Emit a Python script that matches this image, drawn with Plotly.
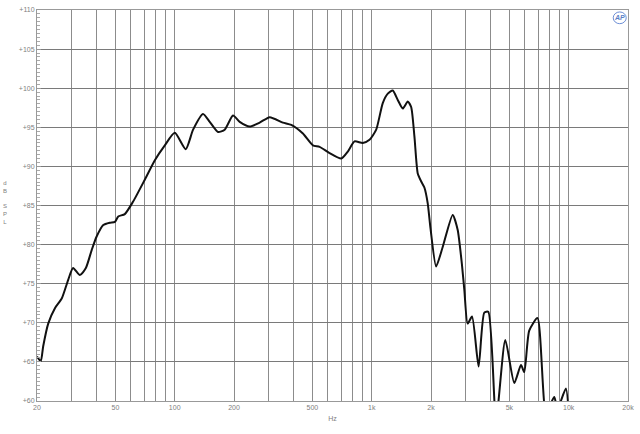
import plotly.graph_objects as go

# frequency response (Hz, dB SPL)
freq_hz = [20, 20.9, 21.5, 22.8, 24.7, 26.7, 28.8, 30.5, 33.0, 35.4, 37.9, 40.1, 43.4,
           46.9, 49.7, 51.7, 55.8, 61.5, 70.5, 79.3, 89.1, 100.1, 113.8, 124.0, 139.3,
           150.6, 165.9, 179.4, 197.7, 213.8, 240.2, 270, 303.5, 354.3, 390.8, 447.5,
           502.8, 543.8, 611, 700.6, 756.6, 818, 901, 974.5, 1054, 1138, 1207, 1279,
           1356, 1438, 1524, 1586, 1648, 1713, 1790, 1851, 1924, 1990, 2123, 2293, 2577,
           2731, 2870, 2953, 3069, 3231, 3489, 3729, 3908, 4276, 4766, 5294, 5725, 5950,
           6304, 6947, 7664, 8443, 8775, 9677, 10057]
spl_db = [65.7, 65.1, 67.0, 69.9, 71.9, 73.1, 75.5, 77.0, 76.1, 77.0, 79.3, 81.0, 82.5,
          82.8, 82.9, 83.6, 83.9, 85.5, 88.3, 90.8, 92.7, 94.3, 92.2, 94.7, 96.7,
          95.7, 94.4, 94.7, 96.5, 95.7, 95.1, 95.6, 96.3, 95.6, 95.3, 94.2,
          92.7, 92.5, 91.7, 91.0, 91.9, 93.2, 93.0, 93.4, 94.7, 98.1, 99.3, 99.7,
          98.5, 97.4, 98.3, 97.6, 93.8, 89.1, 88.0, 87.3, 85.3, 82.0, 77.2, 79.7, 83.8,
          81.9, 77.5, 74.2, 69.9, 70.8, 64.4, 71.3, 71.4, 57.5, 67.8, 62.3, 64.6, 63.7,
          69.0, 70.6, 58.5, 60.5, 59.0, 61.6, 57.0]

grid_hz = [20, 30, 40, 50, 60, 70, 80, 90,
           100, 200, 300, 400, 500, 600, 700, 800, 900,
           1000, 2000, 3000, 4000, 5000, 6000, 7000, 8000, 9000, 10000, 20000]
labelled_hz = {20: "20", 50: "50", 100: "100", 200: "200", 500: "500",
               1000: "1k", 2000: "2k", 5000: "5k", 10000: "10k", 20000: "20k"}
db_ticks = list(range(60, 111, 5))

fig = go.Figure()
fig.add_trace(go.Scatter(
    x=freq_hz, y=spl_db, mode="lines",
    line=dict(color="#111111", width=2, shape="spline", smoothing=0.6),
    hoverinfo="skip", showlegend=False,
))

fig.update_layout(
    width=640, height=434,
    margin=dict(l=37, r=12, t=10, b=33, autoexpand=False),
    paper_bgcolor="white", plot_bgcolor="white",
    font=dict(family="Liberation Sans, Arial, sans-serif", size=7, color="#808080"),
)
fig.update_xaxes(
    type="log", range=[1.30103, 4.30103], automargin=False,
    tickmode="array", tickvals=grid_hz,
    ticktext=[labelled_hz.get(v, "") for v in grid_hz],
    showgrid=True, gridcolor="#8c8c8c", gridwidth=1,
    showline=True, linecolor="#999999", mirror=True,
    ticks="", zeroline=False,
    title=dict(text="Hz", font=dict(size=7, color="#808080"), standoff=5),
)
fig.update_yaxes(
    range=[60, 110], automargin=False, tickmode="array", tickvals=db_ticks,
    ticktext=[f"+{v}" for v in db_ticks],
    showgrid=True, gridcolor="#7a7a7a", gridwidth=1,
    showline=True, linecolor="#999999", mirror=True,
    ticks="inside", ticklen=4, tickcolor="#999999",
    minor=dict(dtick=0.5, ticks="inside", ticklen=3, tickcolor="#aaaaaa", showgrid=False),
    zeroline=False,
)

# stacked axis label
fig.add_annotation(
    text="d<br>B<br><br>S<br>P<br>L", xref="paper", yref="paper",
    x=-0.054, y=0.57, xanchor="center", yanchor="top", showarrow=False,
    font=dict(size=6, color="#808080"),
)
# logo
fig.add_shape(type="circle", xref="paper", yref="paper",
              x0=0.975, x1=0.997, y0=0.965, y1=0.995,
              line=dict(color="#6d8fd6", width=1))
fig.add_annotation(
    text="<b><i>AP</i></b>", xref="paper", yref="paper", x=0.986, y=0.98,
    xanchor="center", yanchor="middle",
    showarrow=False, font=dict(size=7, color="#5b7fc7"),
)

# drop the default 8px body margin so the figure fills the window
fig.write_html("out.html", config={"displayModeBar": False},
               post_script="document.body.style.margin = '0';")
